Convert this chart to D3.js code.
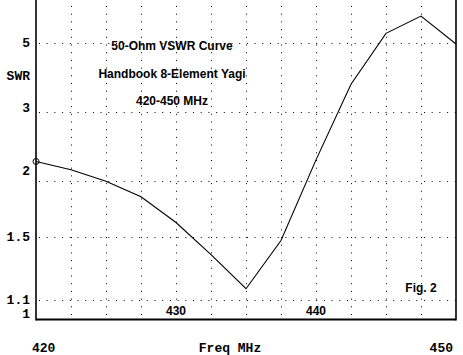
<!DOCTYPE html>
<html><head><meta charset="utf-8">
<script src="https://cdn.jsdelivr.net/npm/d3@7"></script>
<style>
html,body{margin:0;padding:0;background:#fff;}
svg{display:block;}
.mono{font-family:"Liberation Mono","Courier New",monospace;font-weight:bold;font-size:13px;}
.sans{font-family:"Liberation Sans",Arial,sans-serif;font-weight:bold;font-size:12px;}
</style></head>
<body>
<script>
// ---- data ----
const freqs = [420, 422.5, 425, 427.5, 430, 432.5, 435, 437.5, 440, 442.5, 445, 447.5, 450];
const swr   = [2.23, 2.13, 2.00, 1.84, 1.61, 1.37, 1.16, 1.47, 2.25, 3.62, 5.44, 6.44, 4.95];
const yTicks = [5, 3, 2, 1.5, 1.1, 1];
const yGrid = [5, 3, 2, 1.5, 1.1];
const xGrid = [422.5, 425, 427.5, 430, 432.5, 435, 437.5, 440, 442.5, 445, 447.5];
const titleLines = ["50-Ohm VSWR Curve", "Handbook 8-Element Yagi", "420-450 MHz"];

const W = 463, H = 355;
const svg = d3.select("body").append("svg").attr("width", W).attr("height", H);

const x = d3.scaleLinear().domain([420, 450]).range([36, 456]);
// SWR is plotted linearly in reflection coefficient rho = (s-1)/(s+1)
const yRho = d3.scaleLinear().domain([0, 1]).range([319.5, -95.5]);
const y = s => yRho((s - 1) / (s + 1));

const plotTop = 0, plotBottom = y(1);

// grid
const g = svg.append("g").attr("stroke", "#000").attr("stroke-width", 1).attr("stroke-dasharray", "1,6.7");
g.selectAll(".vg").data(xGrid).join("line")
  .attr("x1", d => Math.round(x(d)) + 0.5).attr("x2", d => Math.round(x(d)) + 0.5)
  .attr("y1", plotTop + 6).attr("y2", plotBottom);
g.selectAll(".hg").data(yGrid).join("line")
  .attr("x1", x(420) + 3).attr("x2", x(450))
  .attr("y1", d => Math.round(y(d)) + 0.5).attr("y2", d => Math.round(y(d)) + 0.5);

// axes frame
svg.append("line").attr("x1", x(420)).attr("x2", x(420)).attr("y1", 0).attr("y2", plotBottom + 1)
  .attr("stroke", "#000").attr("stroke-width", 1.6);
svg.append("line").attr("x1", x(450)).attr("x2", x(450)).attr("y1", 0).attr("y2", plotBottom + 1)
  .attr("stroke", "#000").attr("stroke-width", 1.6);
svg.append("line").attr("x1", x(420)).attr("x2", x(450)).attr("y1", plotBottom).attr("y2", plotBottom)
  .attr("stroke", "#000").attr("stroke-width", 2);

// curve
const line = d3.line().x((d, i) => x(freqs[i])).y(d => y(d));
svg.append("path").datum(swr).attr("d", line).attr("fill", "none")
  .attr("stroke", "#000").attr("stroke-width", 1.1);
svg.append("circle").attr("cx", x(freqs[0])).attr("cy", y(swr[0])).attr("r", 3)
  .attr("fill", "none").attr("stroke", "#000").attr("stroke-width", 1);

// y tick labels (some labels sit slightly above their grid line in the original)
const nudge = {3: -5, 2: -11, 1: -6};
svg.selectAll(".yt").data(yTicks).join("text").attr("class", "mono")
  .attr("x", 30).attr("y", d => y(d) + (nudge[d] || 0) + 4.5)
  .attr("text-anchor", "end").text(d => d);
svg.append("text").attr("class", "mono").attr("x", 30).attr("y", 79.5)
  .attr("text-anchor", "end").text("SWR");

// x labels
svg.append("text").attr("class", "mono").attr("x", x(420) - 4).attr("y", 351.5).text("420");
svg.append("text").attr("class", "mono").attr("x", x(450) - 3).attr("y", 351.5)
  .attr("text-anchor", "end").text("450");
svg.selectAll(".xt").data([430, 440]).join("text").attr("class", "sans")
  .attr("x", d => x(d)).attr("y", 314.5).attr("text-anchor", "middle").text(d => d);
svg.append("text").attr("class", "mono").attr("x", 230).attr("y", 351.5)
  .attr("text-anchor", "middle").text("Freq MHz");

// titles
const ty = [45, 73, 100];
svg.selectAll(".tt").data(titleLines).join("text").attr("class", "sans")
  .attr("x", 172).attr("y", (d, i) => ty[i] + 4.5).attr("text-anchor", "middle").text(d => d);
svg.append("text").attr("class", "sans").attr("x", 421).attr("y", 291.5)
  .attr("text-anchor", "middle").text("Fig. 2");
</script>
</body></html>
